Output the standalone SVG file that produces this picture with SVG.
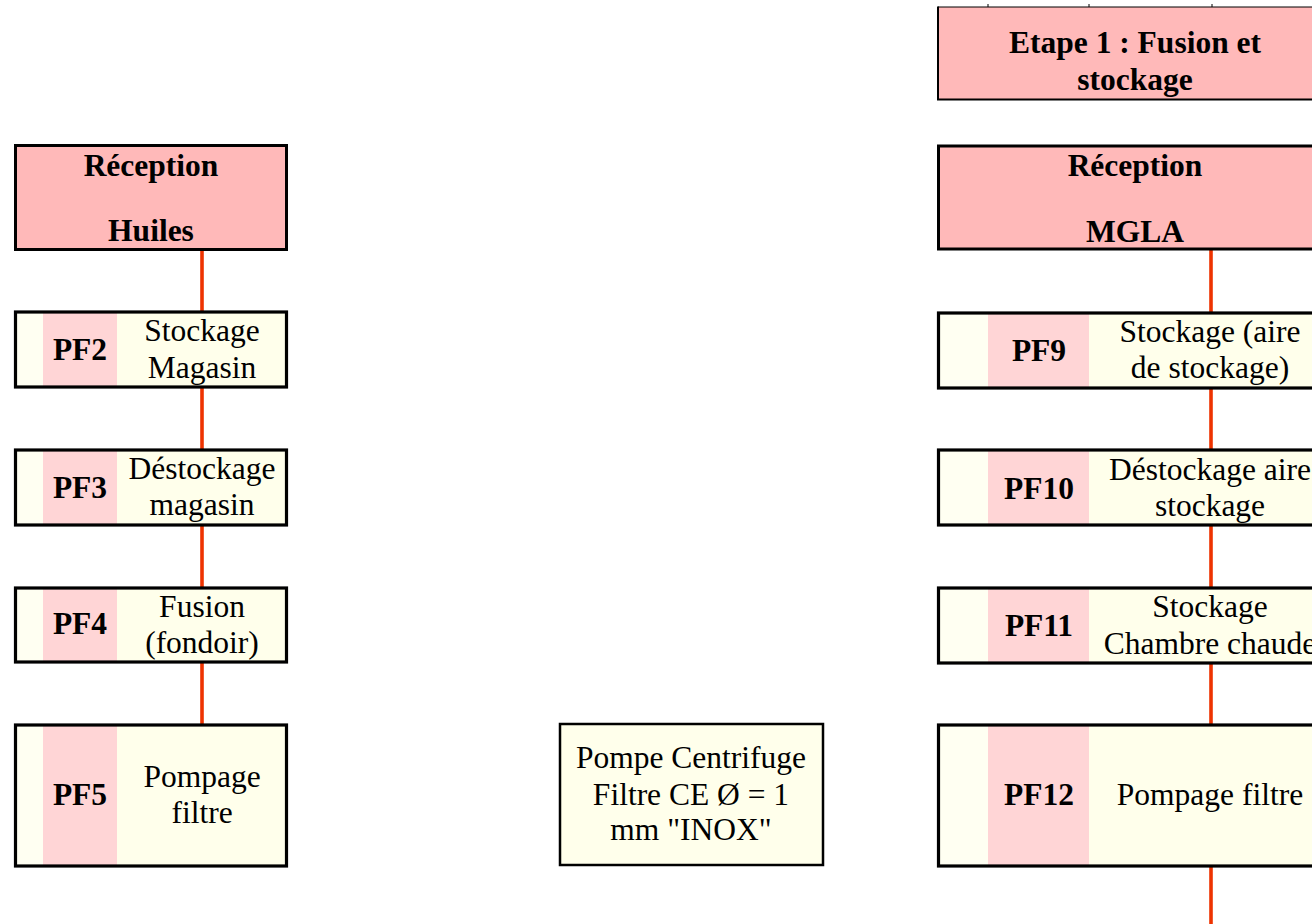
<svg xmlns="http://www.w3.org/2000/svg" width="1312" height="924" viewBox="0 0 1312 924">
  <style>
    .hdr { fill: #FFB9B9; stroke: #000; stroke-width: 3; }
    .frame { fill: none; stroke: #000; stroke-width: 3.2; }
    .margin { fill: #FFFFF2; }
    .code { fill: #FFD5D6; }
    .body { fill: #FFFFEB; }
    .note { fill: #FFFFEB; stroke: #000; stroke-width: 2.5; }
    text { font-family: "Liberation Serif", "Times New Roman", serif; font-size: 31.5px; fill: #000; text-anchor: middle; }
    .b { font-weight: bold; }
    .link { stroke: #EE3300; stroke-width: 3.6; fill: none; }
  </style>

  <!-- connectors -->
  <g id="connectors">
    <line class="link" x1="202" y1="251" x2="202" y2="311"/>
    <line class="link" x1="202" y1="388" x2="202" y2="449"/>
    <line class="link" x1="202" y1="526" x2="202" y2="587"/>
    <line class="link" x1="202" y1="663" x2="202" y2="724"/>
    <line class="link" x1="1211" y1="250" x2="1211" y2="312"/>
    <line class="link" x1="1211" y1="388" x2="1211" y2="449"/>
    <line class="link" x1="1211" y1="526" x2="1211" y2="587"/>
    <line class="link" x1="1211" y1="663" x2="1211" y2="724"/>
    <line class="link" x1="1211" y1="867" x2="1211" y2="924"/>
  </g>

  <!-- title -->
  <g id="etape1">
    <rect x="938" y="7" width="400" height="92.5" fill="#FFB9B9"/>
    <line x1="938" y1="7" x2="1312" y2="7" stroke="#000" stroke-width="1"/>
    <line x1="938" y1="6.5" x2="938" y2="100" stroke="#000" stroke-width="2"/>
    <line x1="937" y1="99.5" x2="1312" y2="99.5" stroke="#000" stroke-width="2"/>
    <line x1="988" y1="4" x2="988" y2="7" stroke="#000" stroke-width="1"/>
    <line x1="1089" y1="4" x2="1089" y2="7" stroke="#000" stroke-width="1"/>
    <line x1="1212" y1="4" x2="1212" y2="7" stroke="#000" stroke-width="1"/>
    <text class="b" x="1135" y="53">Etape 1 : Fusion et</text>
    <text class="b" x="1135" y="90">stockage</text>
  </g>

  <!-- left branch: oils -->
  <g id="reception-huiles">
    <rect class="hdr" x="15.5" y="145.5" width="271" height="104"/>
    <text class="b" x="151" y="176">Réception</text>
    <text class="b" x="151" y="241">Huiles</text>
  </g>

  <g id="pf2">
    <rect class="margin" x="15" y="312" width="28" height="75"/>
    <rect class="code" x="43" y="312" width="74" height="75"/>
    <rect class="body" x="117" y="312" width="169" height="75"/>
    <rect class="frame" x="15.5" y="312" width="271" height="75"/>
    <text class="b" x="80" y="360">PF2</text>
    <text x="202" y="341">Stockage</text>
    <text x="202" y="378">Magasin</text>
  </g>

  <g id="pf3">
    <rect class="margin" x="15" y="450" width="28" height="75"/>
    <rect class="code" x="43" y="450" width="74" height="75"/>
    <rect class="body" x="117" y="450" width="169" height="75"/>
    <rect class="frame" x="15.5" y="450" width="271" height="75"/>
    <text class="b" x="80" y="498">PF3</text>
    <text x="202" y="479">Déstockage</text>
    <text x="202" y="515">magasin</text>
  </g>

  <g id="pf4">
    <rect class="margin" x="15" y="588" width="28" height="74"/>
    <rect class="code" x="43" y="588" width="74" height="74"/>
    <rect class="body" x="117" y="588" width="169" height="74"/>
    <rect class="frame" x="15.5" y="588" width="271" height="74"/>
    <text class="b" x="80" y="634">PF4</text>
    <text x="202" y="617">Fusion</text>
    <text x="202" y="653">(fondoir)</text>
  </g>

  <g id="pf5">
    <rect class="margin" x="15" y="725" width="28" height="141"/>
    <rect class="code" x="43" y="725" width="74" height="141"/>
    <rect class="body" x="117" y="725" width="169" height="141"/>
    <rect class="frame" x="15.5" y="725" width="271" height="141"/>
    <text class="b" x="80" y="805">PF5</text>
    <text x="202" y="787">Pompage</text>
    <text x="202" y="823">filtre</text>
  </g>

  <!-- equipment note -->
  <g id="pompe">
    <rect class="note" x="560" y="724" width="263" height="141"/>
    <text x="691" y="768">Pompe Centrifuge</text>
    <text x="691" y="805">Filtre CE Ø = 1</text>
    <text x="691" y="840">mm "INOX"</text>
  </g>

  <!-- right branch: MGLA -->
  <g id="reception-mgla">
    <rect class="hdr" x="938.5" y="146" width="400" height="103"/>
    <text class="b" x="1135" y="176">Réception</text>
    <text class="b" x="1135" y="242">MGLA</text>
  </g>

  <g id="pf9">
    <rect class="margin" x="938" y="313" width="50" height="75"/>
    <rect class="code" x="988" y="313" width="101" height="75"/>
    <rect class="body" x="1089" y="313" width="250" height="75"/>
    <rect class="frame" x="938.5" y="313" width="400" height="75"/>
    <text class="b" x="1039" y="361">PF9</text>
    <text x="1210" y="342">Stockage (aire</text>
    <text x="1210" y="378">de stockage)</text>
  </g>

  <g id="pf10">
    <rect class="margin" x="938" y="450" width="50" height="75"/>
    <rect class="code" x="988" y="450" width="101" height="75"/>
    <rect class="body" x="1089" y="450" width="250" height="75"/>
    <rect class="frame" x="938.5" y="450" width="400" height="75"/>
    <text class="b" x="1039" y="499">PF10</text>
    <text x="1210" y="480">Déstockage aire</text>
    <text x="1210" y="516">stockage</text>
  </g>

  <g id="pf11">
    <rect class="margin" x="938" y="588" width="50" height="75"/>
    <rect class="code" x="988" y="588" width="101" height="75"/>
    <rect class="body" x="1089" y="588" width="250" height="75"/>
    <rect class="frame" x="938.5" y="588" width="400" height="75"/>
    <text class="b" x="1039" y="636">PF11</text>
    <text x="1210" y="617">Stockage</text>
    <text x="1210" y="654">Chambre chaude</text>
  </g>

  <g id="pf12">
    <rect class="margin" x="938" y="725" width="50" height="141"/>
    <rect class="code" x="988" y="725" width="101" height="141"/>
    <rect class="body" x="1089" y="725" width="250" height="141"/>
    <rect class="frame" x="938.5" y="725" width="400" height="141"/>
    <text class="b" x="1039" y="805">PF12</text>
    <text x="1210" y="805">Pompage filtre</text>
  </g>
</svg>
